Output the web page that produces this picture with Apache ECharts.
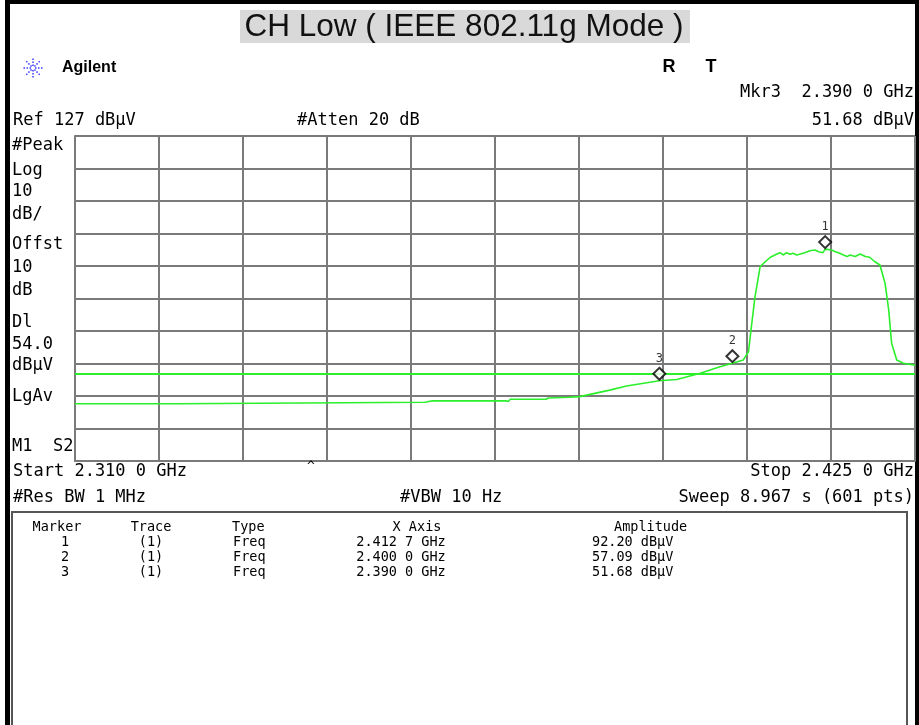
<!DOCTYPE html>
<html>
<head>
<meta charset="utf-8">
<script src="https://cdn.jsdelivr.net/npm/echarts@6/dist/echarts.min.js"></script>
<style>
html, body { margin: 0; padding: 0; background: #fff; }
#chart { width: 919px; height: 725px; }
</style>
</head>
<body>
<div id="chart"></div>
<script>
// trace (GHz / dBuV)
var traceFreq = [
    2.3100, 2.3241, 2.3242, 2.3580, 2.3584, 2.3586, 2.3590, 2.3690, 2.3693, 2.3696,
    2.3745, 2.3748, 2.3776, 2.3791, 2.3832, 2.3855, 2.3900, 2.3924, 2.3956, 2.3983,
    2.4000, 2.4015, 2.4022, 2.4026, 2.4031, 2.4038, 2.4045, 2.4052, 2.4061, 2.4065,
    2.4070, 2.4074, 2.4079, 2.4083, 2.4088, 2.4093, 2.4099, 2.4106, 2.4113, 2.4118,
    2.4124, 2.4127, 2.4136, 2.4141, 2.4147, 2.4152, 2.4157, 2.4161, 2.4168, 2.4175,
    2.4182, 2.4188, 2.4195, 2.4202, 2.4209, 2.4214, 2.4218, 2.4225, 2.4234, 2.4250
];
var traceLevel = [
    44.6, 44.6, 45.1, 45.1, 45.3, 45.0, 45.5, 45.5, 45.3, 46.0,
    46.0, 46.4, 46.6, 46.8, 48.8, 50.1, 51.7, 52.1, 54.0, 56.0,
    57.1, 58.1, 60.6, 68.3, 77.6, 86.8, 88.3, 89.7, 90.7, 91.1,
    90.4, 91.1, 90.6, 90.9, 90.4, 90.7, 91.1, 91.7, 91.9, 91.4,
    91.1, 92.2, 91.9, 91.4, 90.9, 90.4, 89.9, 90.4, 89.9, 90.7,
    89.9, 89.7, 88.3, 87.3, 81.7, 73.5, 63.2, 58.1, 57.1, 56.5
];
var markerNames = ['1', '2', '3'];
var markerFreq = [2.4127, 2.4000, 2.3900];
var markerLevel = [92.20, 57.09, 51.68];
var displayLine = 54.0;
var refLevel = 127;
var divCount = 10;

var tableHead = ['Marker', 'Trace', 'Type', 'X Axis', 'Amplitude'];
var tableRows = [
    ['1', '(1)', 'Freq', '2.412 7 GHz', '92.20 dBμV'],
    ['2', '(1)', 'Freq', '2.400 0 GHz', '57.09 dBμV'],
    ['3', '(1)', 'Freq', '2.390 0 GHz', '51.68 dBμV']
];
var sideLabels = ['#Peak', 'Log', '10', 'dB/', 'Offst', '10', 'dB', 'Dl', '54.0', 'dBμV', 'LgAv', 'M1  S2'];
var sideY = [146, 171, 192, 215, 245, 268, 291, 323, 345, 366, 397, 447];

var MONO = '"DejaVu Sans Mono", "Liberation Mono", monospace';
var SANS = '"Liberation Sans", Arial, sans-serif';

function txt(str, x, y, size, align, extra) {
    var style = {
        text: str, x: x, y: y,
        font: size + 'px ' + MONO,
        fill: '#000',
        align: align || 'left',
        verticalAlign: 'middle'
    };
    if (extra) {
        for (var k in extra) style[k] = extra[k];
    }
    return { type: 'text', silent: true, z: 10, style: style };
}

var graphic = [];
// frame
graphic.push({ type: 'rect', shape: { x: 5, y: 0, width: 914, height: 4 }, style: { fill: '#000' } });
graphic.push({ type: 'rect', shape: { x: 5, y: 0, width: 5, height: 725 }, style: { fill: '#000' } });
graphic.push({ type: 'rect', shape: { x: 915, y: 0, width: 4, height: 725 }, style: { fill: '#000' } });
// title
graphic.push({ type: 'rect', shape: { x: 240, y: 10, width: 450, height: 33 }, style: { fill: '#d9d9d9' } });
graphic.push(txt('CH Low ( IEEE 802.11g Mode )', 464, 27, 31, 'center', { font: '31.5px ' + SANS, fill: '#111' }));
// logo
var logo = [];
for (var a = 0; a < 8; a++) {
    var ang = a * Math.PI / 4;
    logo.push({
        type: 'line',
        shape: { x1: 33 + Math.cos(ang) * 2, y1: 68 + Math.sin(ang) * 2, x2: 33 + Math.cos(ang) * 10, y2: 68 + Math.sin(ang) * 10 },
        style: { stroke: '#3a3aff', lineWidth: 1.5, lineDash: [1.5, 1.5] }
    });
}
graphic.push({ type: 'group', children: logo });
graphic.push(txt('Agilent', 62, 68, 16, 'left', { font: 'bold 16px ' + SANS }));
graphic.push(txt('R', 669, 67, 18, 'center', { font: 'bold 18px ' + SANS }));
graphic.push(txt('T', 711, 67, 18, 'center', { font: 'bold 18px ' + SANS }));
// header lines
graphic.push(txt('Mkr3  2.390 0 GHz', 914, 93, 17, 'right'));
graphic.push(txt('Ref 127 dBμV', 13, 121, 17, 'left'));
graphic.push(txt('#Atten 20 dB', 297, 121, 17, 'left'));
graphic.push(txt('51.68 dBμV', 914, 121, 17, 'right'));
for (var i = 0; i < sideLabels.length; i++) {
    graphic.push(txt(sideLabels[i], 12, sideY[i], 17, 'left'));
}
graphic.push(txt('Start 2.310 0 GHz', 13, 472, 17, 'left'));
graphic.push(txt('^', 311, 467, 13, 'center'));
graphic.push(txt('Stop 2.425 0 GHz', 914, 472, 17, 'right'));
graphic.push(txt('#Res BW 1 MHz', 13, 498, 17, 'left'));
graphic.push(txt('#VBW 10 Hz', 400, 498, 17, 'left'));
graphic.push(txt('Sweep 8.967 s (601 pts)', 914, 498, 17, 'right'));
// marker table
graphic.push({ type: 'rect', shape: { x: 12, y: 512, width: 895, height: 230 }, style: { fill: 'none', stroke: '#555', lineWidth: 2 } });
var colX = [57, 151, 232, 417, 614];
var colAlign = ['center', 'center', 'left', 'center', 'left'];
var rowY = [527, 542, 557, 572];
for (var c = 0; c < tableHead.length; c++) {
    graphic.push(txt(tableHead[c], colX[c], rowY[0], 13.5, colAlign[c]));
}
var cellX = [65, 151, 233, 401, 592];
var cellAlign = ['center', 'center', 'left', 'center', 'left'];
for (var r = 0; r < tableRows.length; r++) {
    for (var c2 = 0; c2 < tableRows[r].length; c2++) {
        graphic.push(txt(tableRows[r][c2], cellX[c2], rowY[r + 1], 13.5, cellAlign[c2]));
    }
}

var traceData = traceFreq.map(function (f, i) { return [f, traceLevel[i]]; });
var markerData = markerFreq.map(function (f, i) { return [f, markerLevel[i], markerNames[i]]; });

var gridLine = { color: '#7a7a7a', width: 2 };

var option = {
    animation: false,
    backgroundColor: '#fff',
    grid: { left: 75, top: 136, width: 840, height: 325, containLabel: false },
    xAxis: [
        { type: 'value', min: 2.31, max: 2.425, show: false },
        {
            type: 'value', min: 0, max: divCount, interval: 1, position: 'bottom',
            axisLine: { show: true, lineStyle: gridLine }, axisTick: { show: false },
            axisLabel: { show: false }, splitLine: { show: true, lineStyle: gridLine }
        }
    ],
    yAxis: [
        { type: 'value', min: refLevel - 100, max: refLevel, show: false },
        {
            type: 'value', min: 0, max: divCount, interval: 1, position: 'left',
            axisLine: { show: true, lineStyle: gridLine }, axisTick: { show: false },
            axisLabel: { show: false }, splitLine: { show: true, lineStyle: gridLine }
        }
    ],
    graphic: graphic,
    series: [
        {
            type: 'line',
            xAxisIndex: 0, yAxisIndex: 0,
            data: traceData,
            showSymbol: false,
            lineStyle: { color: '#2bef2b', width: 1.6 },
            z: 3,
            markLine: {
                silent: true,
                symbol: 'none',
                label: { show: false },
                lineStyle: { color: '#2bef2b', width: 2, type: 'solid' },
                data: [{ yAxis: displayLine }]
            }
        },
        {
            type: 'scatter',
            xAxisIndex: 0, yAxisIndex: 0,
            data: markerData,
            symbol: 'diamond',
            symbolSize: 12,
            symbolOffset: [0, -7],
            itemStyle: { color: '#fff', borderColor: '#000', borderWidth: 2 },
            label: {
                show: true, position: 'top', distance: 2,
                formatter: function (p) { return p.data[2]; },
                fontFamily: MONO, fontSize: 12, color: '#000'
            },
            z: 5
        }
    ]
};

var myChart = echarts.init(document.getElementById('chart'));
myChart.setOption(option);
</script>
</body>
</html>
